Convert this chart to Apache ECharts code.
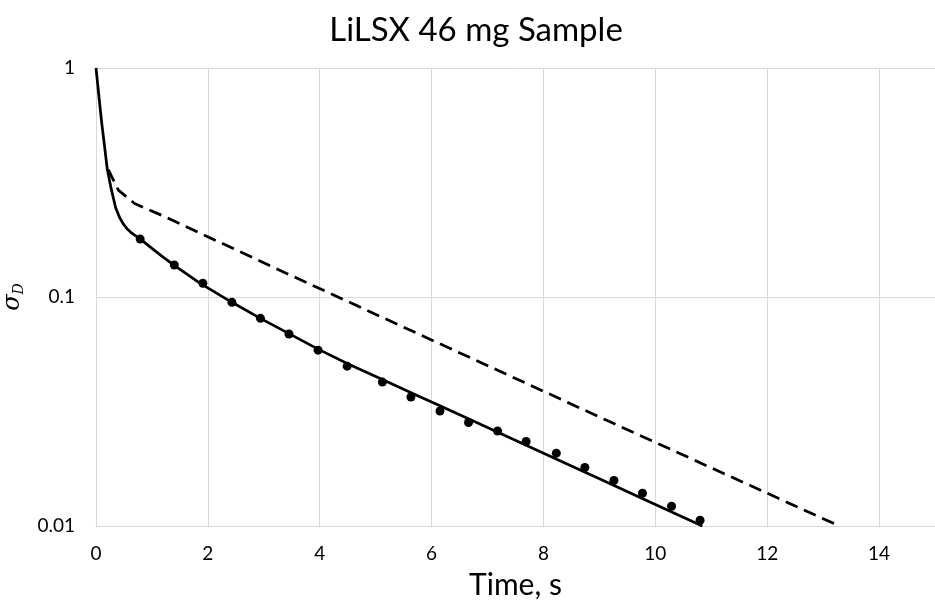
<!DOCTYPE html>
<html>
<head>
<meta charset="utf-8">
<title>LiLSX 46 mg Sample</title>
<script src="https://cdn.jsdelivr.net/npm/echarts@6/dist/echarts.min.js"></script>
<style>
  html, body { margin: 0; padding: 0; background: #ffffff; }
  #chart { width: 935px; height: 605px; }
</style>
</head>
<body>
<div id="chart"></div>
<script>
// Desorption fraction σ_D versus time for the 46 mg LiLSX sample
const chartTitle = 'LiLSX 46 mg Sample';
const xAxisTitle = 'Time, s';

// Model curve (solid)
const modelTime  = [0, 0.05, 0.1, 0.15, 0.2, 0.27, 0.35, 0.42, 0.49, 0.56, 0.64, 0.8, 1.0, 1.2, 1.4, 1.85, 2.43, 2.94, 3.45, 3.97, 4.5, 5.1, 5.78, 6.14, 7.0, 7.69, 8.5, 9.0, 10.0, 10.84];
const modelSigma = [1, 0.762, 0.582, 0.461, 0.364, 0.298, 0.246, 0.223, 0.208, 0.198, 0.190, 0.1786, 0.163, 0.1493, 0.1374, 0.1153, 0.0948, 0.0807, 0.0692, 0.0592, 0.0511, 0.0438, 0.0368, 0.0336, 0.0269, 0.0225, 0.0183, 0.0161, 0.0124, 0.01];

// Second curve (dashed)
const dashedTime  = [0.22, 0.4, 0.69, 1.2, 3.4, 6.11, 9.15, 13.29];
const dashedSigma = [0.36, 0.293, 0.256, 0.226, 0.127, 0.0631, 0.0288, 0.01];

// Measured points
const measTime  = [0.79, 1.40, 1.91, 2.43, 2.94, 3.45, 3.97, 4.49, 5.12, 5.63, 6.15, 6.66, 7.18, 7.69, 8.23, 8.74, 9.26, 9.77, 10.29, 10.80];
const measSigma = [0.179, 0.138, 0.1148, 0.0948, 0.0807, 0.0689, 0.0586, 0.0499, 0.0425, 0.0366, 0.0318, 0.0283, 0.0260, 0.0234, 0.0208, 0.0180, 0.0158, 0.0139, 0.0122, 0.0106];

const pairs = (xs, ys) => xs.map((x, i) => [x, ys[i]]);

const FONT = 'Lato';
const chart = echarts.init(document.getElementById('chart'), null, { renderer: 'canvas' });

chart.setOption({
  animation: false,
  backgroundColor: '#ffffff',
  title: {
    text: chartTitle,
    left: 471,
    textAlign: 'center',
    top: 9,
    textStyle: { fontFamily: FONT, fontSize: 33, fontWeight: 'normal', color: '#000000' }
  },
  grid: { left: 96, right: 0, top: 68, bottom: 79, containLabel: false, outerBoundsMode: 'none' },
  xAxis: {
    type: 'value',
    min: 0,
    max: 15,
    interval: 2,
    name: xAxisTitle,
    nameLocation: 'middle',
    nameGap: 44,
    nameTextStyle: { fontFamily: FONT, fontSize: 30, color: '#000000' },
    axisLine: { show: true, lineStyle: { color: '#d9d9d9', width: 1 } },
    axisTick: { show: false },
    axisLabel: {
      fontFamily: FONT, fontSize: 19, color: '#000000', margin: 18,
      showMaxLabel: false
    },
    splitLine: { show: true, lineStyle: { color: '#d9d9d9', width: 1 } }
  },
  yAxis: {
    type: 'log',
    logBase: 10,
    min: 0.01,
    max: 1,
    name: '{s|σ}{d|D}',
    nameLocation: 'middle',
    nameGap: 66,
    nameRotate: 90,
    nameTextStyle: {
      rich: {
        s: { fontFamily: 'DejaVu Serif', fontStyle: 'italic', fontSize: 24, color: '#000000' },
        d: { fontFamily: 'DejaVu Serif', fontStyle: 'italic', fontSize: 14, color: '#000000', padding: [14, 0, 0, 0] }
      }
    },
    axisLine: { show: false },
    axisTick: { show: false },
    axisLabel: {
      fontFamily: FONT, fontSize: 19, color: '#000000', margin: 21,
      formatter: v => String(+v.toPrecision(6))
    },
    splitLine: { show: true, lineStyle: { color: '#d9d9d9', width: 1 } }
  },
  series: [
    {
      name: 'model',
      type: 'line',
      data: pairs(modelTime, modelSigma),
      showSymbol: false,
      smooth: false,
      lineStyle: { color: '#000000', width: 2.75, join: 'round' },
      z: 2
    },
    {
      name: 'dashed',
      type: 'line',
      data: pairs(dashedTime, dashedSigma),
      showSymbol: false,
      lineStyle: { color: '#000000', width: 2.75, type: [13, 7] },
      z: 2
    },
    {
      name: 'measured',
      type: 'scatter',
      data: pairs(measTime, measSigma),
      symbol: 'circle',
      symbolSize: 9,
      itemStyle: { color: '#000000', opacity: 1 },
      z: 3
    }
  ]
});
</script>
</body>
</html>
